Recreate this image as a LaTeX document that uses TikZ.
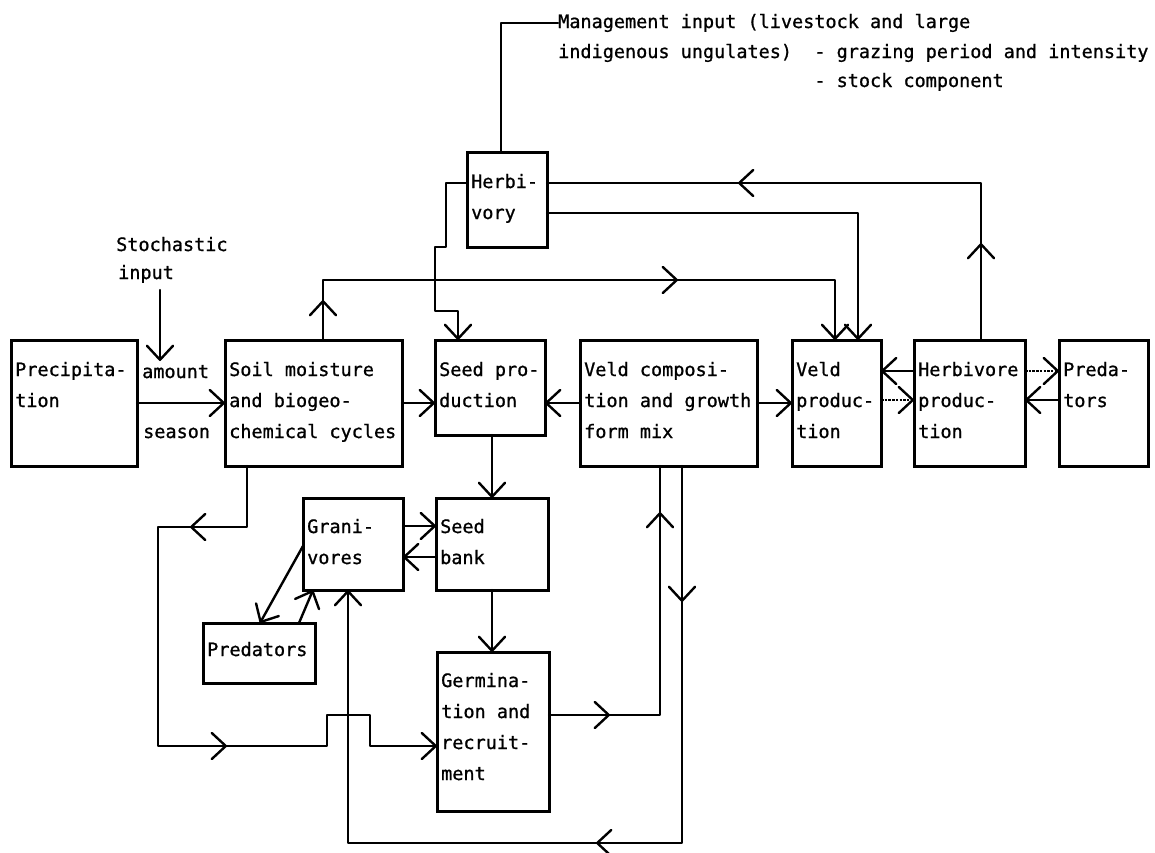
\documentclass[tikz,border=0pt]{standalone}
\usepackage{fontspec}
\newfontfamily\plotfont{DejaVu Sans Mono}[BoldFont={DejaVu Sans Mono}, BoldFeatures={FakeBold=0.9}]
\usetikzlibrary{arrows.meta,decorations.markings}
\newcommand{\tl}[1]{\begin{tabular}[t]{@{}l@{}}#1\end{tabular}}
\tikzset{
  sb/.tip={Straight Barb[length=14pt,width=26pt,line width=2.4pt,round]},
  bx/.style={draw, line width=3pt, inner sep=0pt, outer sep=0pt},
  txt/.style={anchor=base west, inner sep=0pt, font=\plotfont\bfseries\fontsize{18.5}{31}\selectfont},
  ln/.style={line width=2.4pt, line cap=round, line join=round},
  arr/.style={ln, -{sb}},
  dotln/.style={line width=1.6pt, dash pattern=on 2.5pt off 1.2pt, -{sb}},
  marrow/.style={postaction={decorate, decoration={markings, mark=at position #1 with {\arrow{sb}}}}}
}
\begin{document}
\begin{tikzpicture}[x=1pt,y=-1pt]
\fill[white] (0,0) rectangle (1155,852);
\useasboundingbox (0,0) rectangle (1155,852);

% boxes
\node[bx, minimum width=126pt, minimum height=126pt] (prec) at (74,403) {};
\node[bx, minimum width=177pt, minimum height=126pt] (soil) at (313.5,403) {};
\node[bx, minimum width=110pt, minimum height=95pt] (seedp) at (490,387.5) {};
\node[bx, minimum width=177pt, minimum height=126pt] (veldc) at (668.5,403) {};
\node[bx, minimum width=89pt, minimum height=126pt] (veldp) at (836.5,403) {};
\node[bx, minimum width=111pt, minimum height=126pt] (herbp) at (969.5,403) {};
\node[bx, minimum width=89pt, minimum height=126pt] (predr) at (1103.5,403) {};
\node[bx, minimum width=80pt, minimum height=95pt] (herby) at (507,199.5) {};
\node[bx, minimum width=100pt, minimum height=92pt] (gran) at (353,544) {};
\node[bx, minimum width=112pt, minimum height=92pt] (seedb) at (492,544) {};
\node[bx, minimum width=112pt, minimum height=60pt] (predl) at (259,653) {};
\node[bx, minimum width=112pt, minimum height=159pt] (germ) at (493,731.5) {};

% box texts
\node[txt] (tprec) at (15,376) {\tl{Precipita-\\tion}};
\node[txt] (tsoil) at (229,376) {\tl{Soil moisture\\and biogeo-\\chemical cycles}};
\node[txt] (tseedp) at (439,376) {\tl{Seed pro-\\duction}};
\node[txt] (tveldc) at (584,376) {\tl{Veld composi-\\tion and growth\\form mix}};
\node[txt] (tveldp) at (796,376) {\tl{Veld\\produc-\\tion}};
\node[txt] (therbp) at (918,376) {\tl{Herbivore\\produc-\\tion}};
\node[txt] (tpredr) at (1063,376) {\tl{Preda-\\tors}};
\node[txt] (therby) at (471,188) {\tl{Herbi-\\vory}};
\node[txt] (tgran) at (307,533) {\tl{Grani-\\vores}};
\node[txt] (tseedb) at (440,533) {\tl{Seed\\bank}};
\node[txt] (tpredl) at (207,656) {Predators};
\node[txt] (tgerm) at (441,687) {\tl{Germina-\\tion and\\recruit-\\ment}};

% free texts
\node[txt] (mg1) at (558,28) {Management input (livestock and large};
\node[txt] (mg2) at (558,58) {indigenous ungulates)\ \ - grazing period and intensity};
\node[txt] (mg3) at (558,87) {\phantom{indigenous ungulates)\ \ }- stock component};
\node[txt] (stoch) at (116,251) {Stochastic};
\node[txt] (inp) at (118,279) {input};
\node[txt] (amount) at (142,378) {amount};
\node[txt] (season) at (143,438) {season};

\coordinate (stc) at (160,290);
\coordinate (amt) at (160,361);

% connectors
\draw[arr] (stc) -- (amt);
\draw[arr] (prec.east) -- (soil.west);
\draw[arr] (soil.east) -- (seedp.west |- soil.east);
\draw[arr] (veldc.west) -- (seedp.east |- veldc.west);
\draw[arr] (veldc.east) -- (veldp.west |- veldc.east);
\draw[arr] (herbp.west |- 0,371) -- (veldp.east |- 0,371);
\draw[dotln] (veldp.east |- 0,400) -- (herbp.west |- 0,400);
\draw[dotln] (herbp.east |- 0,371) -- (predr.west |- 0,371);
\draw[arr] (predr.west |- 0,400) -- (herbp.east |- 0,400);

\draw[arr, marrow=40pt, marrow=415pt] (323,0 |- soil.north) -- (323,280) -- (835,280) -- (835,0 |- veldp.north);
\draw[ln] (501,0 |- herby.north) -- (501,0 |- mg1.west) -- (mg1.west);
\draw[arr] (herby.east |- 0,213) -- (858,213) -- (858,0 |- veldp.north);
\draw[ln, marrow=97pt, marrow=400pt] (981,0 |- herbp.north) -- (981,183) -- (herby.east |- 0,183);
\draw[arr] (herby.west |- 0,183) -- (446,183) -- (446,247) -- (435,247) -- (435,311) -- (458,311) -- (458,0 |- seedp.north);
\draw[arr] (492,0 |- seedp.south) -- (492,0 |- seedb.north);
\draw[arr] (gran.east |- 0,526) -- (seedb.west |- 0,526);
\draw[arr] (seedb.west |- 0,557) -- (gran.east |- 0,557);
\draw[arr] (gran.west |- 0,546) -- (260,0 |- predl.north);
\draw[arr] (299,0 |- predl.north) -- (313,0 |- gran.south);
\draw[arr] (492,0 |- seedb.south) -- (492,0 |- germ.north);
\draw[ln, marrow=61pt, marrow=314pt] (germ.east |- 0,715) -- (660,715) -- (660,0 |- veldc.south);
\draw[arr, marrow=136pt, marrow=463pt] (682,0 |- veldc.south) -- (682,843) -- (348,843) -- (348,0 |- gran.south);
\draw[arr, marrow=118pt, marrow=438pt] (247,0 |- soil.south) -- (247,527) -- (158,527) -- (158,746) -- (327,746) -- (327,715) -- (370,715) -- (370,746) -- (germ.west |- 0,746);
\end{tikzpicture}
\end{document}
